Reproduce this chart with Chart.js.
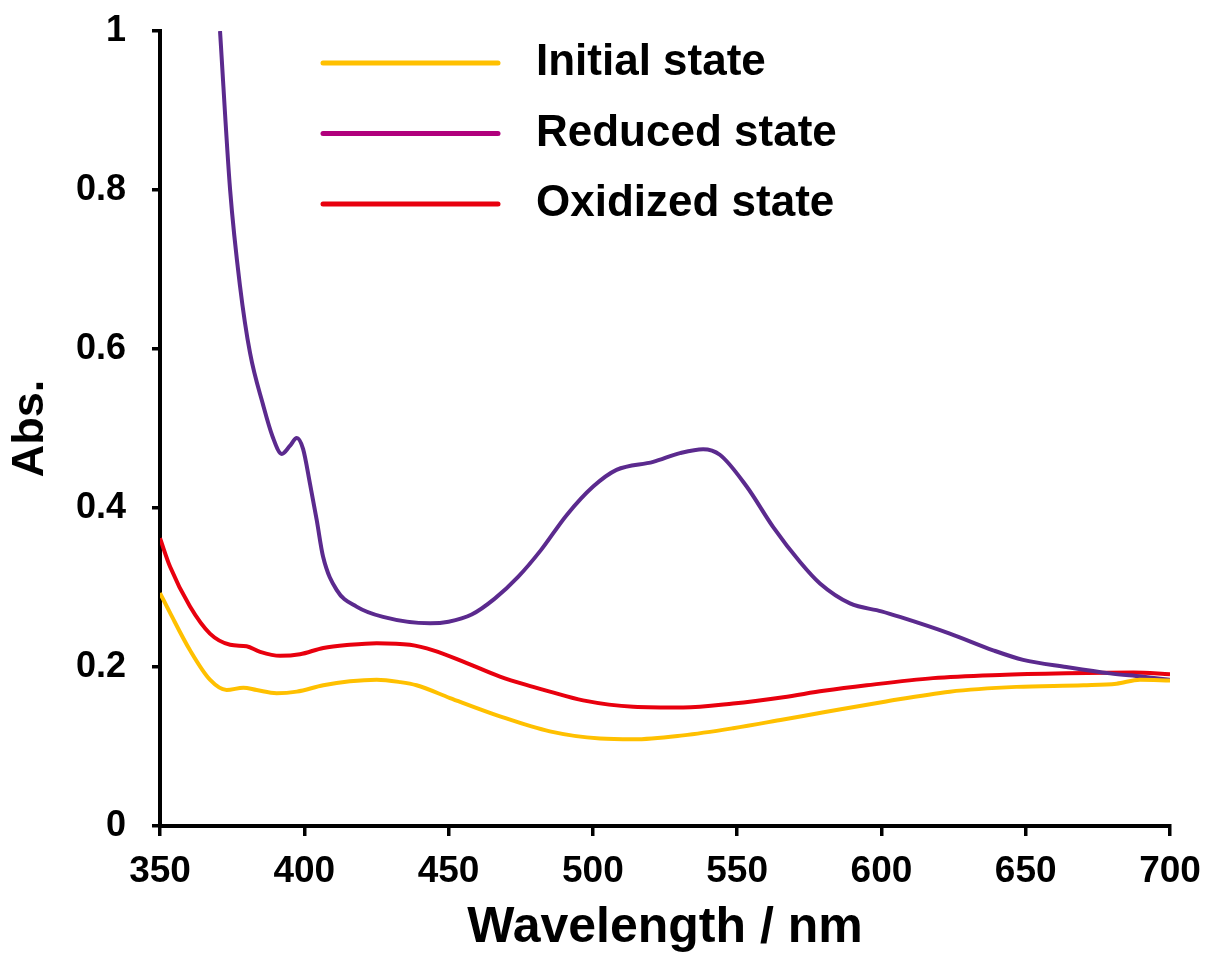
<!DOCTYPE html>
<html>
<head>
<meta charset="utf-8">
<script src="https://cdn.jsdelivr.net/npm/chart.js@4"></script>
<style>
  html, body { margin: 0; padding: 0; background: #fff; }
  #wrap { width: 1206px; height: 953px; position: relative; }
</style>
</head>
<body>
<div id="wrap"><canvas id="chart"></canvas></div>
<script>
// spectra (wavelength in nm, absorbance)
const initialNm = [350, 353.5, 360.4, 367.3, 373.1, 378.9, 383.5, 390.4, 397.4, 406.6, 415.8, 425.1, 433.2, 438.9, 450.5, 467.8, 485.1, 502.5, 514, 531.3, 548.6, 566, 580, 600.6, 623.7, 646.8, 670, 681.5, 689.6, 700];
const initialAbs = [0.293, 0.268, 0.221, 0.184, 0.171, 0.174, 0.171, 0.167, 0.169, 0.177, 0.182, 0.184, 0.181, 0.177, 0.161, 0.138, 0.119, 0.110, 0.109, 0.114, 0.123, 0.134, 0.143, 0.156, 0.169, 0.175, 0.177, 0.179, 0.184, 0.183];

const reducedNm = [370.8, 374.3, 377.7, 381.2, 385.7, 389, 392.2, 395, 397.4, 399.6, 402, 404.3, 406.5, 411.2, 418.1, 427.3, 443.6, 450, 458, 466, 474, 482, 490.9, 500.1, 508.2, 520.9, 530.2, 538.2, 544, 553.3, 562.5, 571.8, 578.7, 589.1, 600, 606.4, 623.7, 638.7, 649.1, 664.1, 679.2, 690, 700];
const reducedAbs = [1.0, 0.80, 0.68, 0.595, 0.53, 0.49, 0.468, 0.478, 0.488, 0.474, 0.43, 0.385, 0.339, 0.297, 0.276, 0.263, 0.255, 0.257, 0.266, 0.286, 0.313, 0.347, 0.391, 0.427, 0.448, 0.458, 0.469, 0.474, 0.467, 0.427, 0.376, 0.332, 0.305, 0.28, 0.270, 0.263, 0.242, 0.221, 0.209, 0.200, 0.192, 0.188, 0.184];

const oxidizedNm = [350, 353.5, 360.4, 367.3, 374.3, 380, 384.7, 391.6, 398.5, 406.6, 415.8, 425.1, 436.6, 444.7, 456.3, 467.8, 479.3, 485.1, 496.6, 514, 531.3, 548.6, 566, 580, 594.9, 617.9, 641, 664.1, 687.3, 700];
const oxidizedAbs = [0.362, 0.326, 0.276, 0.242, 0.228, 0.226, 0.219, 0.214, 0.216, 0.224, 0.228, 0.230, 0.228, 0.221, 0.205, 0.188, 0.175, 0.169, 0.158, 0.150, 0.149, 0.154, 0.162, 0.170, 0.177, 0.186, 0.190, 0.192, 0.193, 0.191];

const xTicks = [350, 400, 450, 500, 550, 600, 650, 700];
const yTicks = [0, 0.2, 0.4, 0.6, 0.8, 1];

const seriesNames = ["Initial state", "Reduced state", "Oxidized state"];
const lineColors = ["#FFC000", "#5B2A8E", "#E8000E"];
const legendColors = ["#FFC000", "#B0007C", "#E8000E"];

function toPoints(xs, ys) {
  return xs.map((x, i) => ({ x: x, y: ys[i] }));
}

const FONT = "'Liberation Sans', Arial, Helvetica, sans-serif";

// legend drawn in the upper middle of the plot, like the original
const insideLegend = {
  id: "insideLegend",
  afterDraw(chart) {
    const ctx = chart.ctx;
    ctx.save();
    chart.data.datasets.forEach((ds, i) => {
      const y = 63 + i * 70.5;
      ctx.strokeStyle = ds.legendColor;
      ctx.lineWidth = 5;
      ctx.lineCap = "round";
      ctx.beginPath();
      ctx.moveTo(323, y);
      ctx.lineTo(498, y);
      ctx.stroke();
      ctx.fillStyle = "#000";
      ctx.font = "bold 44px " + FONT;
      ctx.textBaseline = "middle";
      ctx.textAlign = "left";
      ctx.fillText(ds.label, 536, y);
    });
    ctx.restore();
  }
};

const datasets = [
  { label: seriesNames[0], data: toPoints(initialNm, initialAbs), borderColor: lineColors[0], legendColor: legendColors[0] },
  { label: seriesNames[1], data: toPoints(reducedNm, reducedAbs), borderColor: lineColors[1], legendColor: legendColors[1] },
  { label: seriesNames[2], data: toPoints(oxidizedNm, oxidizedAbs), borderColor: lineColors[2], legendColor: legendColors[2] }
].map(ds => Object.assign(ds, {
  borderWidth: 4,
  pointRadius: 0,
  fill: false,
  cubicInterpolationMode: "monotone"
}));

new Chart(document.getElementById("chart"), {
  type: "line",
  data: { datasets: datasets },
  plugins: [insideLegend],
  options: {
    responsive: true,
    maintainAspectRatio: false,
    animation: false,
    layout: { padding: { top: 31, right: 36, left: 0, bottom: 0 } },
    plugins: {
      legend: { display: false },
      tooltip: { enabled: false }
    },
    scales: {
      x: {
        type: "linear",
        min: 350,
        max: 700,
        afterFit(scale) {
          scale.height = 127;
          scale.paddingLeft = 0;
          scale.paddingRight = 0;
        },
        afterBuildTicks(scale) { scale.ticks = xTicks.map(v => ({ value: v })); },
        border: { display: true, color: "#000", width: 4 },
        grid: { drawOnChartArea: false, drawTicks: true, tickLength: 10, color: "#000", lineWidth: 3.5 },
        ticks: {
          color: "#000",
          padding: 14,
          maxRotation: 0,
          font: { family: FONT, size: 37, weight: "bold" }
        },
        title: {
          display: true,
          text: "Wavelength / nm",
          color: "#000",
          padding: { top: 0, bottom: 0 },
          font: { family: FONT, size: 50, weight: "bold", lineHeight: 1 }
        }
      },
      y: {
        min: 0,
        max: 1,
        afterFit(scale) {
          scale.width = 160;
          scale.paddingTop = 0;
          scale.paddingBottom = 0;
        },
        afterBuildTicks(scale) { scale.ticks = yTicks.map(v => ({ value: v })); },
        border: { display: true, color: "#000", width: 4 },
        grid: { drawOnChartArea: false, drawTicks: true, tickLength: 8, color: "#000", lineWidth: 3.5 },
        ticks: {
          color: "#000",
          padding: 26,
          callback: v => String(Math.round(v * 10) / 10),
          font: { family: FONT, size: 36, weight: "bold" }
        },
        title: {
          display: true,
          text: "Abs.",
          color: "#000",
          padding: { top: 8, bottom: 0 },
          font: { family: FONT, size: 45, weight: "bold", lineHeight: 1 }
        }
      }
    }
  }
});
</script>
</body>
</html>
